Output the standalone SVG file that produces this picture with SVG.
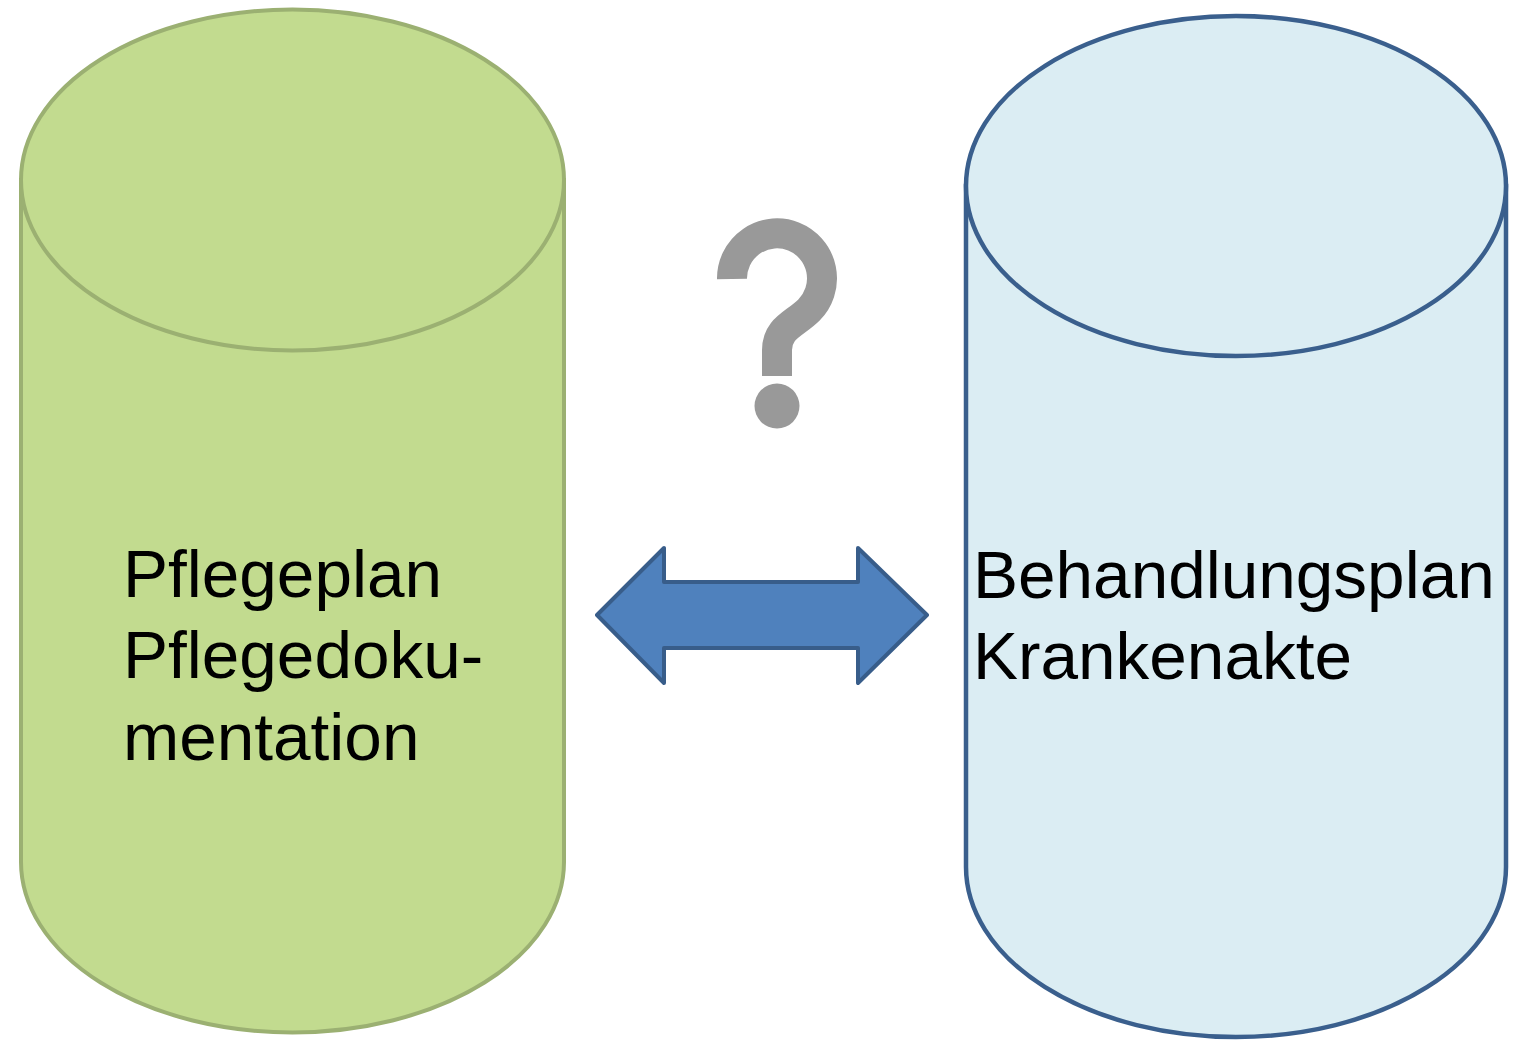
<svg xmlns="http://www.w3.org/2000/svg" width="1521" height="1040" viewBox="0 0 1521 1040">
<style>
.lbl{font-family:"Liberation Sans",Arial,sans-serif;font-size:67.5px;fill:#000}
.green{fill:#c2db8f;stroke:#9bb072;stroke-width:4}
.blue{fill:#dbedf3;stroke:#3a5f8d;stroke-width:4.5}
.q{fill:none;stroke:#999999;stroke-width:30;stroke-linecap:butt}
</style>
<rect width="1521" height="1040" fill="#ffffff"/>
<g id="pflege">
<path class="green" d="M21,180 L21,862 A271.5,170.5 0 0 0 564,862 L564,180 Z"/>
<ellipse class="green" cx="292.5" cy="180" rx="271.5" ry="170.5"/>
<text class="lbl" x="123" y="597">Pflegeplan</text>
<text class="lbl" x="123" y="678">Pflegedoku-</text>
<text class="lbl" x="123" y="760">mentation</text>
</g>
<g id="behandlung">
<path class="blue" d="M966,186 L966,867 A270,170 0 0 0 1506,867 L1506,186 Z"/>
<ellipse class="blue" cx="1236" cy="186" rx="270" ry="170"/>
<text class="lbl" x="973" y="598">Behandlungsplan</text>
<text class="lbl" x="973" y="679">Krankenakte</text>
</g>
<g id="question">
<path class="q" d="M732,279 A45,45 0 1 1 809,310 C795,324 777,328 777,350 L777,376"/>
<circle cx="777" cy="406" r="22.5" fill="#999999"/>
</g>
<g id="connectors">
<path d="M597,615 L664,548 L664,582 L858,582 L858,548 L927,615 L858,683 L858,648 L664,648 L664,683 Z" fill="#4f81bd" stroke="#385d8a" stroke-width="4" stroke-linejoin="round"/>
</g>
</svg>
